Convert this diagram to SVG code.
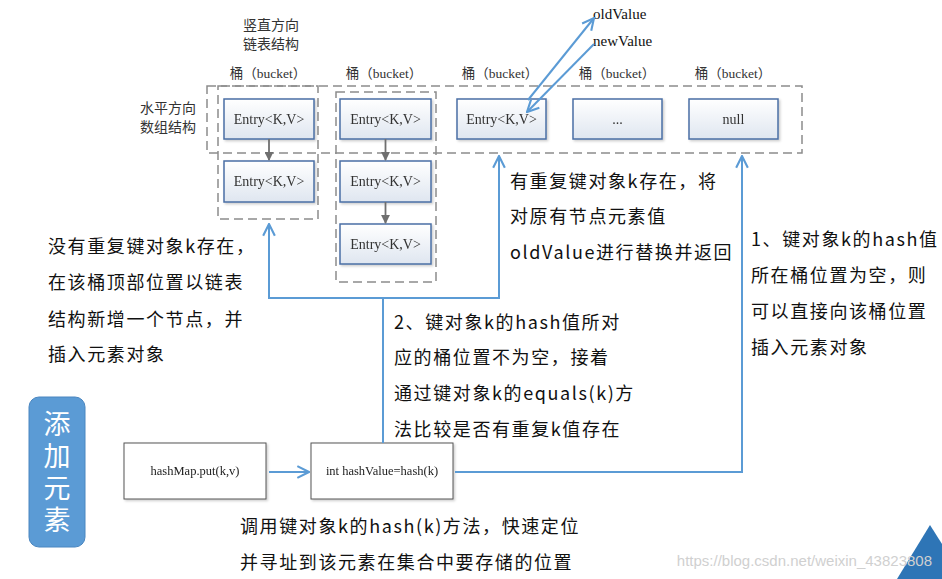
<svg xmlns="http://www.w3.org/2000/svg" width="942" height="579" viewBox="0 0 942 579">
<style>
.bg{fill:#ffffff}
.dash{fill:none;stroke:#8c8c8c;stroke-width:1.5;stroke-dasharray:9 5}
.entry{fill:url(#eg);stroke:#4a6fa5;stroke-width:1.5}
.et{font-family:"Liberation Serif","Noto Sans CJK SC",serif;font-size:14px;fill:#333;text-anchor:middle}
.lbl{font-family:"Liberation Serif","Noto Sans CJK SC",serif;font-size:13.5px;fill:#333;text-anchor:middle}
.cap{font-family:"Noto Sans CJK SC",sans-serif;font-size:14px;fill:#333;text-anchor:middle}
.val{font-family:"Liberation Serif",serif;font-size:15px;fill:#111}
.desc{font-family:"Noto Sans CJK SC",sans-serif;font-size:18px;fill:#111;letter-spacing:1.6px}
.add{font-family:"Noto Sans CJK SC",sans-serif;font-size:27px;fill:#ffffff;text-anchor:middle;writing-mode:vertical-rl;letter-spacing:5px}
.pbox{fill:#ffffff;stroke:#555;stroke-width:1}
.pt{font-family:"Liberation Serif",serif;font-size:12.5px;fill:#222;text-anchor:middle}
.gray{fill:none;stroke:#6f6f6f;stroke-width:1.8}
.blue{fill:none;stroke:#5b9bd5;stroke-width:2}
</style>
<defs>
<linearGradient id="eg" x1="0" y1="0" x2="0" y2="1">
<stop offset="0" stop-color="#ffffff"/>
<stop offset="1" stop-color="#dfe6f0"/>
</linearGradient>
<marker id="ga" viewBox="0 0 10 10" refX="9" refY="5" markerWidth="9" markerHeight="9" orient="auto" markerUnits="userSpaceOnUse">
<path d="M0,0 L10,5 L0,10 z" fill="#6f6f6f"/>
</marker>
<marker id="ba" viewBox="0 0 12 12" refX="11" refY="6" markerWidth="14" markerHeight="14" orient="auto" markerUnits="userSpaceOnUse">
<path d="M1,1 L11,6 L1,11" fill="none" stroke="#5b9bd5" stroke-width="1.8"/>
</marker>
<filter id="sh" x="-10%" y="-10%" width="130%" height="130%">
<feDropShadow dx="1.5" dy="1.5" stdDeviation="1" flood-color="#000" flood-opacity="0.2"/>
</filter>
</defs>
<rect class="bg" x="0" y="0" width="942" height="579"/>

<g id="captions">
<text class="cap" x="271" y="30">竖直方向</text>
<text class="cap" x="271" y="49">链表结构</text>
<text class="cap" x="168" y="113">水平方向</text>
<text class="cap" x="168" y="132">数组结构</text>
<text class="lbl" x="268" y="78">桶（bucket）</text>
<text class="lbl" x="384" y="78">桶（bucket）</text>
<text class="lbl" x="500" y="78">桶（bucket）</text>
<text class="lbl" x="617" y="78">桶（bucket）</text>
<text class="lbl" x="733" y="78">桶（bucket）</text>
</g>

<g id="frames">
<rect class="dash" x="207" y="86" width="595" height="67"/>
<rect class="dash" x="218" y="86" width="100" height="133"/>
<rect class="dash" x="336" y="92" width="100" height="190"/>
</g>

<g id="entry-1-1" filter="url(#sh)"><rect class="entry" x="224" y="99" width="90" height="40"/><text class="et" x="269" y="124">Entry&lt;K,V&gt;</text></g>
<g id="entry-1-2" filter="url(#sh)"><rect class="entry" x="224" y="161" width="90" height="41"/><text class="et" x="269" y="186">Entry&lt;K,V&gt;</text></g>
<g id="entry-2-1" filter="url(#sh)"><rect class="entry" x="340" y="99" width="91" height="40"/><text class="et" x="385.5" y="124">Entry&lt;K,V&gt;</text></g>
<g id="entry-2-2" filter="url(#sh)"><rect class="entry" x="340" y="161" width="91" height="41"/><text class="et" x="385.5" y="186">Entry&lt;K,V&gt;</text></g>
<g id="entry-2-3" filter="url(#sh)"><rect class="entry" x="340" y="224" width="91" height="40"/><text class="et" x="385.5" y="249">Entry&lt;K,V&gt;</text></g>
<g id="entry-3" filter="url(#sh)"><rect class="entry" x="457" y="99" width="89" height="40"/><text class="et" x="501.5" y="124">Entry&lt;K,V&gt;</text></g>
<g id="entry-dots" filter="url(#sh)"><rect class="entry" x="573" y="99" width="89" height="40"/><text class="et" x="617.5" y="124">...</text></g>
<g id="entry-null" filter="url(#sh)"><rect class="entry" x="689" y="99" width="89" height="40"/><text class="et" x="733.5" y="124">null</text></g>

<g id="values">
<text class="val" x="593" y="19">oldValue</text>
<text class="val" x="593" y="46">newValue</text>
</g>

<g id="put" filter="url(#sh)"><rect class="pbox" x="124" y="443" width="142" height="56"/><text class="pt" x="195" y="475">hashMap.put(k,v)</text></g>
<g id="hash" filter="url(#sh)"><rect class="pbox" x="311" y="443" width="142" height="56"/><text class="pt" x="382" y="475">int hashValue=hash(k)</text></g>

<g id="add">
<rect x="29" y="397" width="56" height="150" rx="10" ry="10" fill="#5b9bd5" stroke="#4a86c0" stroke-width="1"/>
<text class="add" x="57" y="474">添加元素</text>
</g>

<g id="connectors">
<line class="gray" x1="269" y1="139" x2="269" y2="160" marker-end="url(#ga)"/>
<line class="gray" x1="385.5" y1="139" x2="385.5" y2="160" marker-end="url(#ga)"/>
<line class="gray" x1="385.5" y1="202" x2="385.5" y2="223" marker-end="url(#ga)"/>
<line class="blue" x1="528" y1="100" x2="594" y2="18" marker-end="url(#ba)"/>
<line class="blue" x1="594" y1="44" x2="527" y2="112" marker-end="url(#ba)"/>
<line class="blue" x1="269" y1="472" x2="309" y2="472" marker-end="url(#ba)"/>
<polyline class="blue" points="455,472 742,472 742,156" marker-end="url(#ba)"/>
<polyline class="blue" points="383,443 383,298 269,298 269,224" marker-end="url(#ba)"/>
<polyline class="blue" points="383,298 499,298 499,156" marker-end="url(#ba)"/>
</g>

<g id="notes">
<text class="desc" x="48" y="253">没有重复键对象k存在，</text>
<text class="desc" x="48" y="289">在该桶顶部位置以链表</text>
<text class="desc" x="48" y="326">结构新增一个节点，并</text>
<text class="desc" x="48" y="361">插入元素对象</text>
<text class="desc" x="510" y="188">有重复键对象k存在，将</text>
<text class="desc" x="510" y="223">对原有节点元素值</text>
<text class="desc" x="510" y="259">oldValue进行替换并返回</text>
<text class="desc" x="394" y="329">2、键对象k的hash值所对</text>
<text class="desc" x="394" y="364">应的桶位置不为空，接着</text>
<text class="desc" x="394" y="400">通过键对象k的equals(k)方</text>
<text class="desc" x="394" y="436">法比较是否有重复k值存在</text>
<text class="desc" x="751" y="246">1、键对象k的hash值</text>
<text class="desc" x="751" y="282">所在桶位置为空，则</text>
<text class="desc" x="751" y="318">可以直接向该桶位置</text>
<text class="desc" x="751" y="354">插入元素对象</text>
<text class="desc" x="240" y="533">调用键对象k的hash(k)方法，快速定位</text>
<text class="desc" x="240" y="569">并寻址到该元素在集合中要存储的位置</text>
</g>

<g id="corner">
<polygon points="930,525 897,579 964,579" fill="#2e75b6"/>
<text x="932" y="566" font-family="Liberation Sans,sans-serif" font-size="15" fill="#d0d0d0" text-anchor="end">https://blog.csdn.net/weixin_43823808</text>
</g>
</svg>
